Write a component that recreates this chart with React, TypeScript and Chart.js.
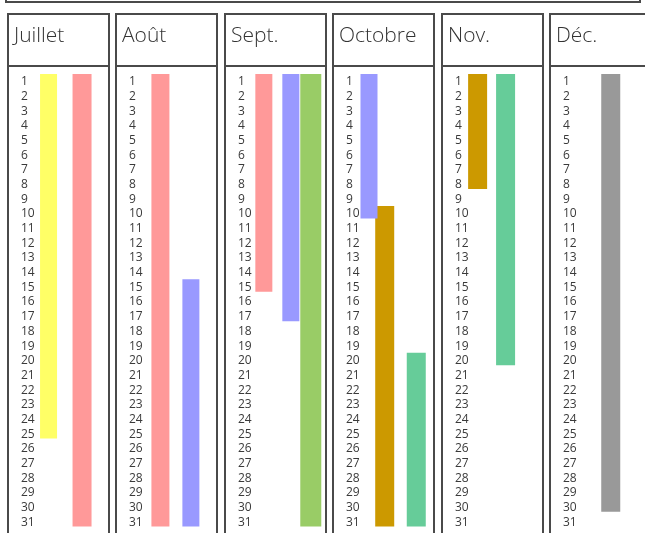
import React, { useEffect, useRef } from 'react';
import { Chart, registerables } from 'chart.js';
Chart.register(...registerables);

const months = ['Juillet', 'Août', 'Sept.', 'Octobre', 'Nov.', 'Déc.'];
const dayLabels = ['1','2','3','4','5','6','7','8','9','10','11','12','13','14','15','16','17','18','19','20','21','22','23','24','25','26','27','28','29','30','31'];

// one entry per period bar
const eventMonth = [0, 0, 1, 1, 2, 2, 2, 3, 3, 3, 4, 4, 5];
const eventTrack = [0.374, 0.683, 0.406, 0.687, 0.36, 0.609, 0.793, 0.33, 0.475, 0.766, 0.332, 0.59, 0.56];
const eventStart = [1, 1, 1, 15, 1, 1, 1, 1, 10, 20, 1, 1, 1];
const eventEnd = [25, 31, 31, 31, 15, 17, 31, 10, 31, 31, 8, 20, 30];
const eventColor = ['#ffff66', '#ff9999', '#ff9999', '#9999ff', '#ff9999', '#9999ff', '#99cc66', '#9999ff', '#cc9900', '#66cc99', '#cc9900', '#66cc99', '#999999'];
const eventWidth = [17, 19, 18, 17, 17, 17, 21, 17, 19, 19, 19, 19, 19];

const FONT = '"Open Sans", "DejaVu Sans", sans-serif';

const framePlugin = {
  id: 'calendarFrame',
  beforeDatasetsDraw(chart: any) {
    const { ctx, scales } = chart;
    const xs = scales.x;
    const ys = scales.y;
    ctx.save();
    ctx.strokeStyle = '#4a4a4a';
    ctx.lineWidth = 2;
    ctx.strokeRect(6, -20, 634, 22);
    months.forEach((m, i) => {
      const left = Math.round(xs.getPixelForValue(i));
      const right = Math.round(xs.getPixelForValue(i + 0.932));
      ctx.strokeStyle = '#4a4a4a';
      ctx.lineWidth = 2;
      ctx.strokeRect(left, 14, right - left, 560);
      ctx.beginPath();
      ctx.moveTo(left, 66);
      ctx.lineTo(right, 66);
      ctx.stroke();
      ctx.fillStyle = '#333';
      ctx.font = '300 21px ' + FONT;
      ctx.textBaseline = 'alphabetic';
      ctx.textAlign = 'left';
      ctx.fillText(m, left + 6, 42);
      ctx.fillStyle = '#3a3a3a';
      ctx.font = '400 12px ' + FONT;
      ctx.textBaseline = 'middle';
      dayLabels.forEach((d, k) => {
        ctx.fillText(d, left + 13, ys.getPixelForValue(k + 1));
      });
    });
    ctx.restore();
  },
};

export default function App() {
  const ref = useRef<HTMLCanvasElement>(null);
  useEffect(() => {
    document.body.style.margin = '0';
    const datasets = eventMonth.map((m, i) => ({
      type: 'line' as const,
      data: [
        { x: m + eventTrack[i], y: eventStart[i] - 0.55 },
        { x: m + eventTrack[i], y: eventEnd[i] + 0.3 },
      ],
      borderColor: eventColor[i],
      borderWidth: eventWidth[i],
      borderCapStyle: 'butt' as const,
      pointRadius: 0,
      fill: false,
      clip: false as any,
    }));
    const chart = new Chart(ref.current as HTMLCanvasElement, {
      type: 'line',
      data: { datasets },
      options: {
        animation: false,
        responsive: false,
        layout: { padding: 0 },
        plugins: { legend: { display: false }, tooltip: { enabled: false } },
        events: [],
        scales: {
          x: { type: 'linear', min: -0.0738, max: 5.876, display: false },
          y: { type: 'linear', min: -4.59, max: 31.74, reverse: true, display: false },
        },
      },
      plugins: [framePlugin],
    });
    return () => chart.destroy();
  }, []);
  return (
    <div style={{ width: 645, height: 533, background: '#fff' }}>
      <canvas ref={ref} width={645} height={533} />
    </div>
  );
}
